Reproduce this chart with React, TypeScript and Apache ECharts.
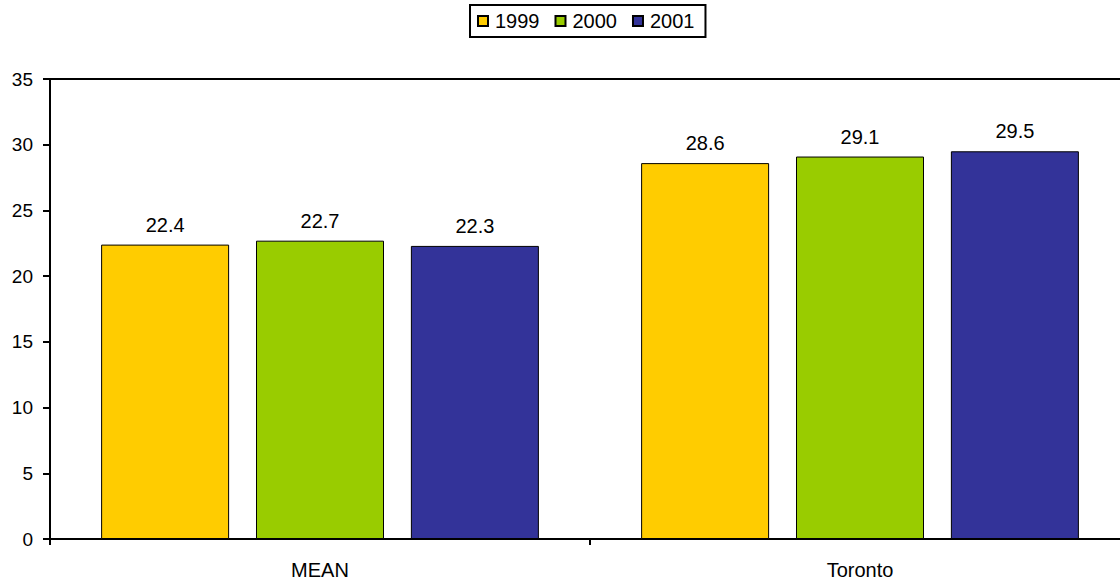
import React, { useEffect, useRef } from "react";
import * as echarts from "echarts";

const categories = ["MEAN", "Toronto"];
const years = ["1999", "2000", "2001"];
const values1999 = [22.4, 28.6];
const values2000 = [22.7, 29.1];
const values2001 = [22.3, 29.5];
const colors = ["#FFCC00", "#99CC00", "#333399"];

const FONT = "Liberation Sans, Arial, sans-serif";

export default function App() {
  const ref = useRef<HTMLDivElement>(null);
  useEffect(() => {
    document.body.style.margin = "0";
    const chart = echarts.init(ref.current!, null, { renderer: "svg" });
    const seriesData = [values1999, values2000, values2001];
    chart.setOption({
      animation: false,
      textStyle: { fontFamily: FONT },
      legend: {
        data: years,
        top: 5,
        left: 470,
        itemWidth: 10,
        itemHeight: 10,
        itemGap: 15,
        padding: [6, 11, 6, 7],
        borderColor: "#000",
        borderWidth: 2,
        icon: "rect",
        textStyle: { fontSize: 20, color: "#000", fontFamily: FONT, padding: [0, 0, 0, 2] },
      },
      grid: {
        left: 50,
        width: 1080,
        top: 79,
        bottom: 47,
        show: true,
        borderColor: "#000",
        borderWidth: 2,
        containLabel: false,
        outerBoundsMode: "none",
      },
      xAxis: {
        type: "category",
        data: categories,
        axisLine: { lineStyle: { color: "#000", width: 2 } },
        axisTick: { show: true, length: 6, lineStyle: { color: "#000", width: 2 } },
        axisLabel: { color: "#000", fontSize: 20, margin: 21, fontFamily: FONT },
      },
      yAxis: {
        type: "value",
        min: 0,
        max: 35,
        interval: 5,
        splitLine: { show: false },
        axisLine: { show: true, lineStyle: { color: "#000", width: 2 } },
        axisTick: { show: true, length: 7, lineStyle: { color: "#000", width: 2 } },
        axisLabel: { color: "#000", fontSize: 19, margin: 17, fontFamily: FONT },
      },
      series: years.map((y, i) => ({
        name: y,
        type: "bar",
        data: seriesData[i],
        barWidth: 128,
        barGap: "21%",
        itemStyle: { color: colors[i], borderColor: "#000", borderWidth: 1 },
        label: {
          show: true,
          position: "top",
          distance: 10,
          color: "#000",
          fontSize: 20,
          fontFamily: FONT,
        },
      })),
    });
    return () => chart.dispose();
  }, []);
  return <div ref={ref} style={{ width: 1120, height: 586, position: "absolute", left: 0, top: 0 }} />;
}
